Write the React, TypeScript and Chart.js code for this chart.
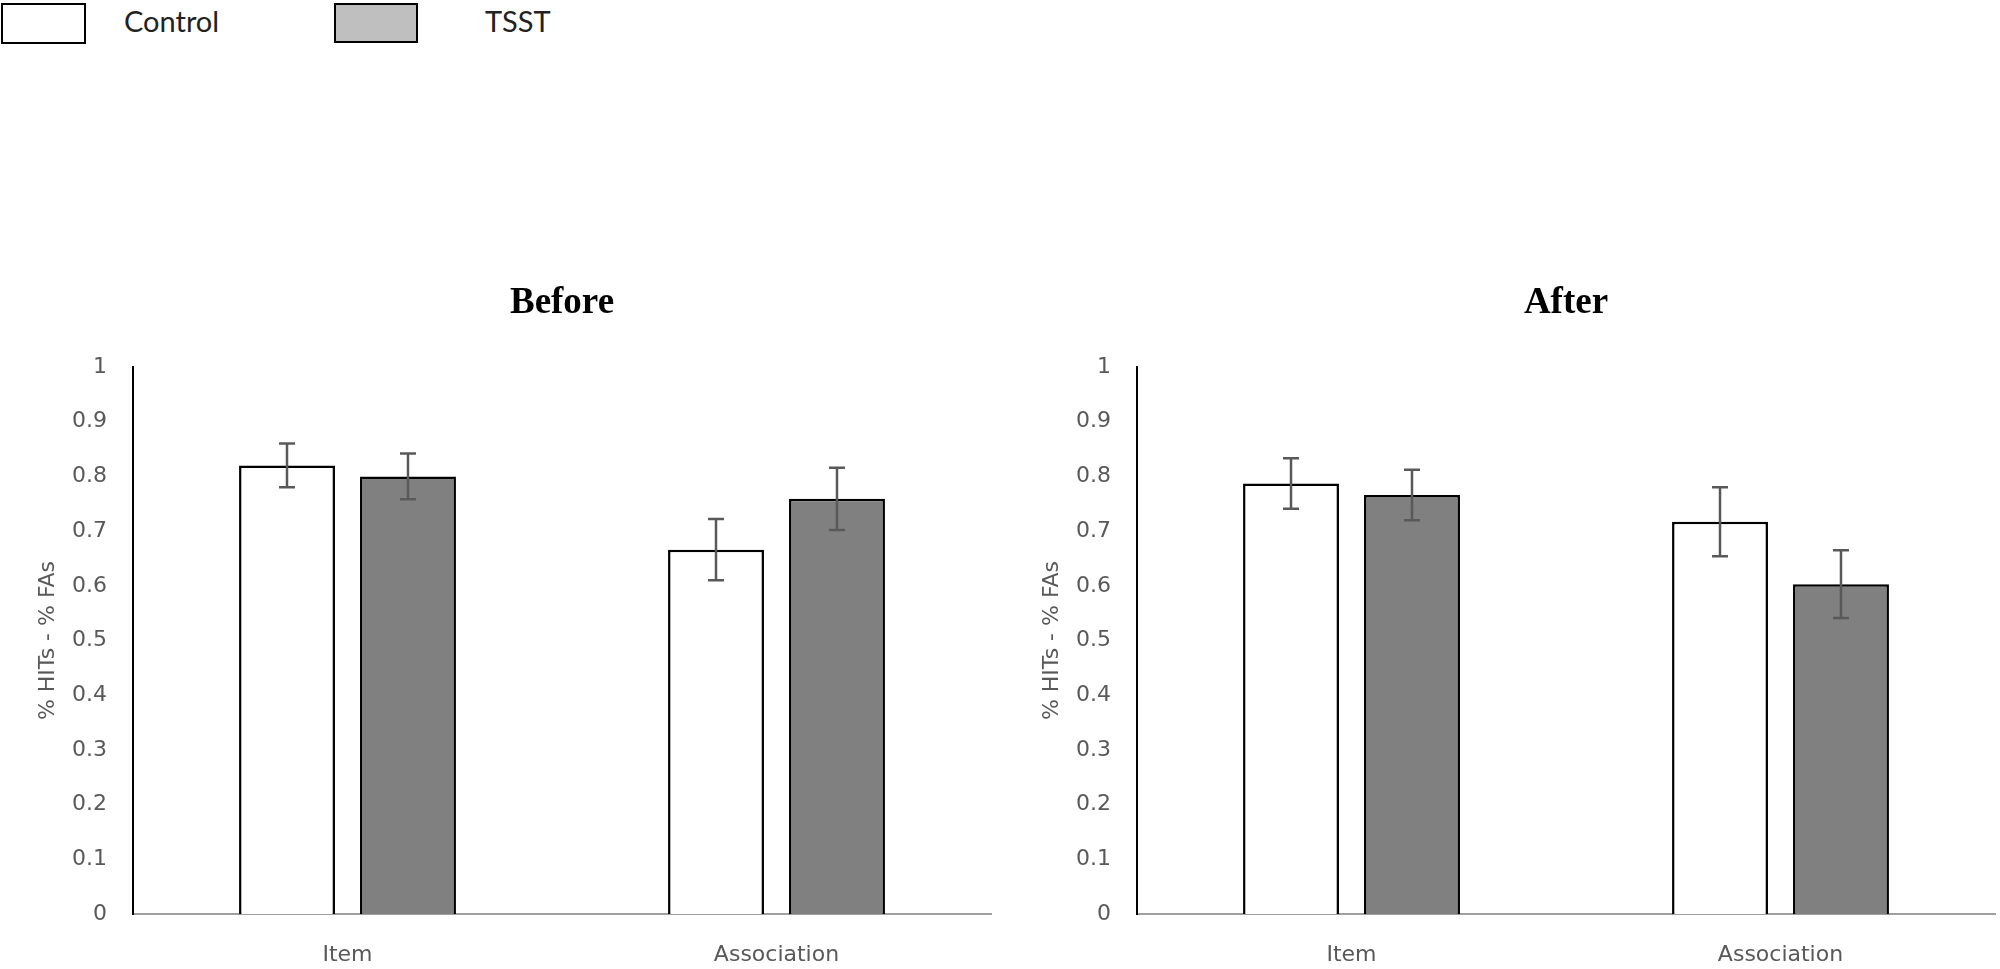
import React, { useEffect, useRef } from "react";
import { Chart, registerables } from "chart.js";

Chart.register(...registerables);

// ---- data ----
const categories = ["Item", "Association"];
const seriesNames = ["Control", "TSST"];
const yTickLabels = ["0", "0.1", "0.2", "0.3", "0.4", "0.5", "0.6", "0.7", "0.8", "0.9", "1"];

const beforeControl = [0.82, 0.666];
const beforeControlErr = [0.04, 0.056];
const beforeTSST = [0.8, 0.759];
const beforeTSSTErr = [0.042, 0.057];

const afterControl = [0.787, 0.717];
const afterControlErr = [0.046, 0.063];
const afterTSST = [0.766, 0.603];
const afterTSSTErr = [0.046, 0.062];

const barFills = ["#ffffff", "#808080"];
const legendFills = ["#ffffff", "#bfbfbf"];

const errorBarPlugin = {
  id: "errorBars",
  afterDatasetsDraw(chart: any, _args: any, opts: any) {
    const errs: number[][] = opts.errors || [];
    const ctx = chart.ctx;
    const yScale = chart.scales.y;
    chart.data.datasets.forEach((ds: any, di: number) => {
      const meta = chart.getDatasetMeta(di);
      const e = errs[di];
      if (!e) return;
      meta.data.forEach((bar: any, i: number) => {
        const v = ds.data[i] as number;
        const x = bar.x;
        const yt = yScale.getPixelForValue(v + e[i]);
        const yb = yScale.getPixelForValue(v - e[i]);
        const cap = 8;
        ctx.save();
        ctx.strokeStyle = "#595959";
        ctx.lineWidth = 2.5;
        ctx.beginPath();
        ctx.moveTo(x, yt);
        ctx.lineTo(x, yb);
        ctx.moveTo(x - cap, yt);
        ctx.lineTo(x + cap, yt);
        ctx.moveTo(x - cap, yb);
        ctx.lineTo(x + cap, yb);
        ctx.stroke();
        ctx.restore();
      });
    });
  },
};

const tickFont = { family: "'DejaVu Sans'", size: 22, lineHeight: 1.2 };

function makeConfig(title: string, ctrl: number[], ctrlErr: number[], tsst: number[], tsstErr: number[], padRight: number): any {
  return {
    type: "bar",
    data: {
      labels: categories,
      datasets: [
        {
          label: seriesNames[0],
          data: ctrl,
          backgroundColor: barFills[0],
          borderColor: "#000000",
          borderWidth: 2.5,
          categoryPercentage: 0.564,
          barPercentage: 0.793,
        },
        {
          label: seriesNames[1],
          data: tsst,
          backgroundColor: barFills[1],
          borderColor: "#000000",
          borderWidth: 2.5,
          categoryPercentage: 0.564,
          barPercentage: 0.793,
        },
      ],
    },
    options: {
      responsive: false,
      animation: false,
      devicePixelRatio: 1,
      layout: { padding: { left: 0, right: padRight, top: 0, bottom: 0 } },
      plugins: {
        legend: { display: false },
        tooltip: { enabled: false },
        title: {
          display: true,
          fullSize: false,
          text: title,
          color: "#000000",
          font: { family: "'Liberation Serif'", size: 37, weight: "bold", lineHeight: 1.2 },
          padding: { top: 31, bottom: 41.6 },
        },
        errorBars: { errors: [ctrlErr, tsstErr] },
      },
      scales: {
        x: {
          grid: { display: false, drawTicks: false },
          border: { display: true, color: "#a0a0a0", width: 2 },
          ticks: { color: "#595959", font: tickFont, padding: 28 },
          afterFit: (s: any) => {
            s.height = 55;
          },
        },
        y: {
          min: 0,
          max: 1,
          grid: { display: false, drawTicks: false },
          border: { display: true, color: "#000000", width: 2 },
          ticks: {
            stepSize: 0.1,
            color: "#595959",
            font: tickFont,
            padding: 26,
            callback: (_v: any, i: number) => yTickLabels[i],
          },
          title: {
            display: true,
            text: "% HITs - % FAs",
            color: "#595959",
            font: tickFont,
            padding: { top: 35.5, bottom: 0 },
          },
          afterFit: (s: any) => {
            s.width = 133;
          },
        },
      },
    },
    plugins: [errorBarPlugin],
  };
}

function BarPanel(props: { title: string; ctrl: number[]; ctrlErr: number[]; tsst: number[]; tsstErr: number[]; left: number; width: number; padRight: number }) {
  const ref = useRef<HTMLCanvasElement | null>(null);
  useEffect(() => {
    if (!ref.current) return;
    const chart = new Chart(ref.current, makeConfig(props.title, props.ctrl, props.ctrlErr, props.tsst, props.tsstErr, props.padRight));
    return () => chart.destroy();
  }, []);
  return (
    <canvas
      ref={ref}
      width={props.width}
      height={719}
      style={{ position: "absolute", left: props.left, top: 250, width: props.width, height: 719 }}
    />
  );
}

export default function App() {
  const legendBoxes = [
    { left: 1, top: 3, width: 85, height: 41, textLeft: 124 },
    { left: 334, top: 3, width: 84, height: 40, textLeft: 485 },
  ];
  return (
    <div style={{ position: "absolute", left: 0, top: 0, width: 2000, height: 969, background: "#ffffff", overflow: "hidden" }}>
      {seriesNames.map((name, i) => (
        <React.Fragment key={name}>
          <div
            style={{
              position: "absolute",
              left: legendBoxes[i].left,
              top: legendBoxes[i].top,
              width: legendBoxes[i].width,
              height: legendBoxes[i].height,
              boxSizing: "border-box",
              border: "2.5px solid #000000",
              background: legendFills[i],
            }}
          />
          <span
            style={{
              position: "absolute",
              left: legendBoxes[i].textLeft,
              top: 4,
              fontFamily: "Lato",
              fontSize: 29,
              lineHeight: 1.2,
              color: "#222222",
              whiteSpace: "nowrap",
            }}
          >
            {name}
          </span>
        </React.Fragment>
      ))}
      <BarPanel title="Before" ctrl={beforeControl} ctrlErr={beforeControlErr} tsst={beforeTSST} tsstErr={beforeTSSTErr} left={0} width={1000} padRight={9} />
      <BarPanel title="After" ctrl={afterControl} ctrlErr={afterControlErr} tsst={afterTSST} tsstErr={afterTSSTErr} left={1004} width={996} padRight={5} />
    </div>
  );
}
